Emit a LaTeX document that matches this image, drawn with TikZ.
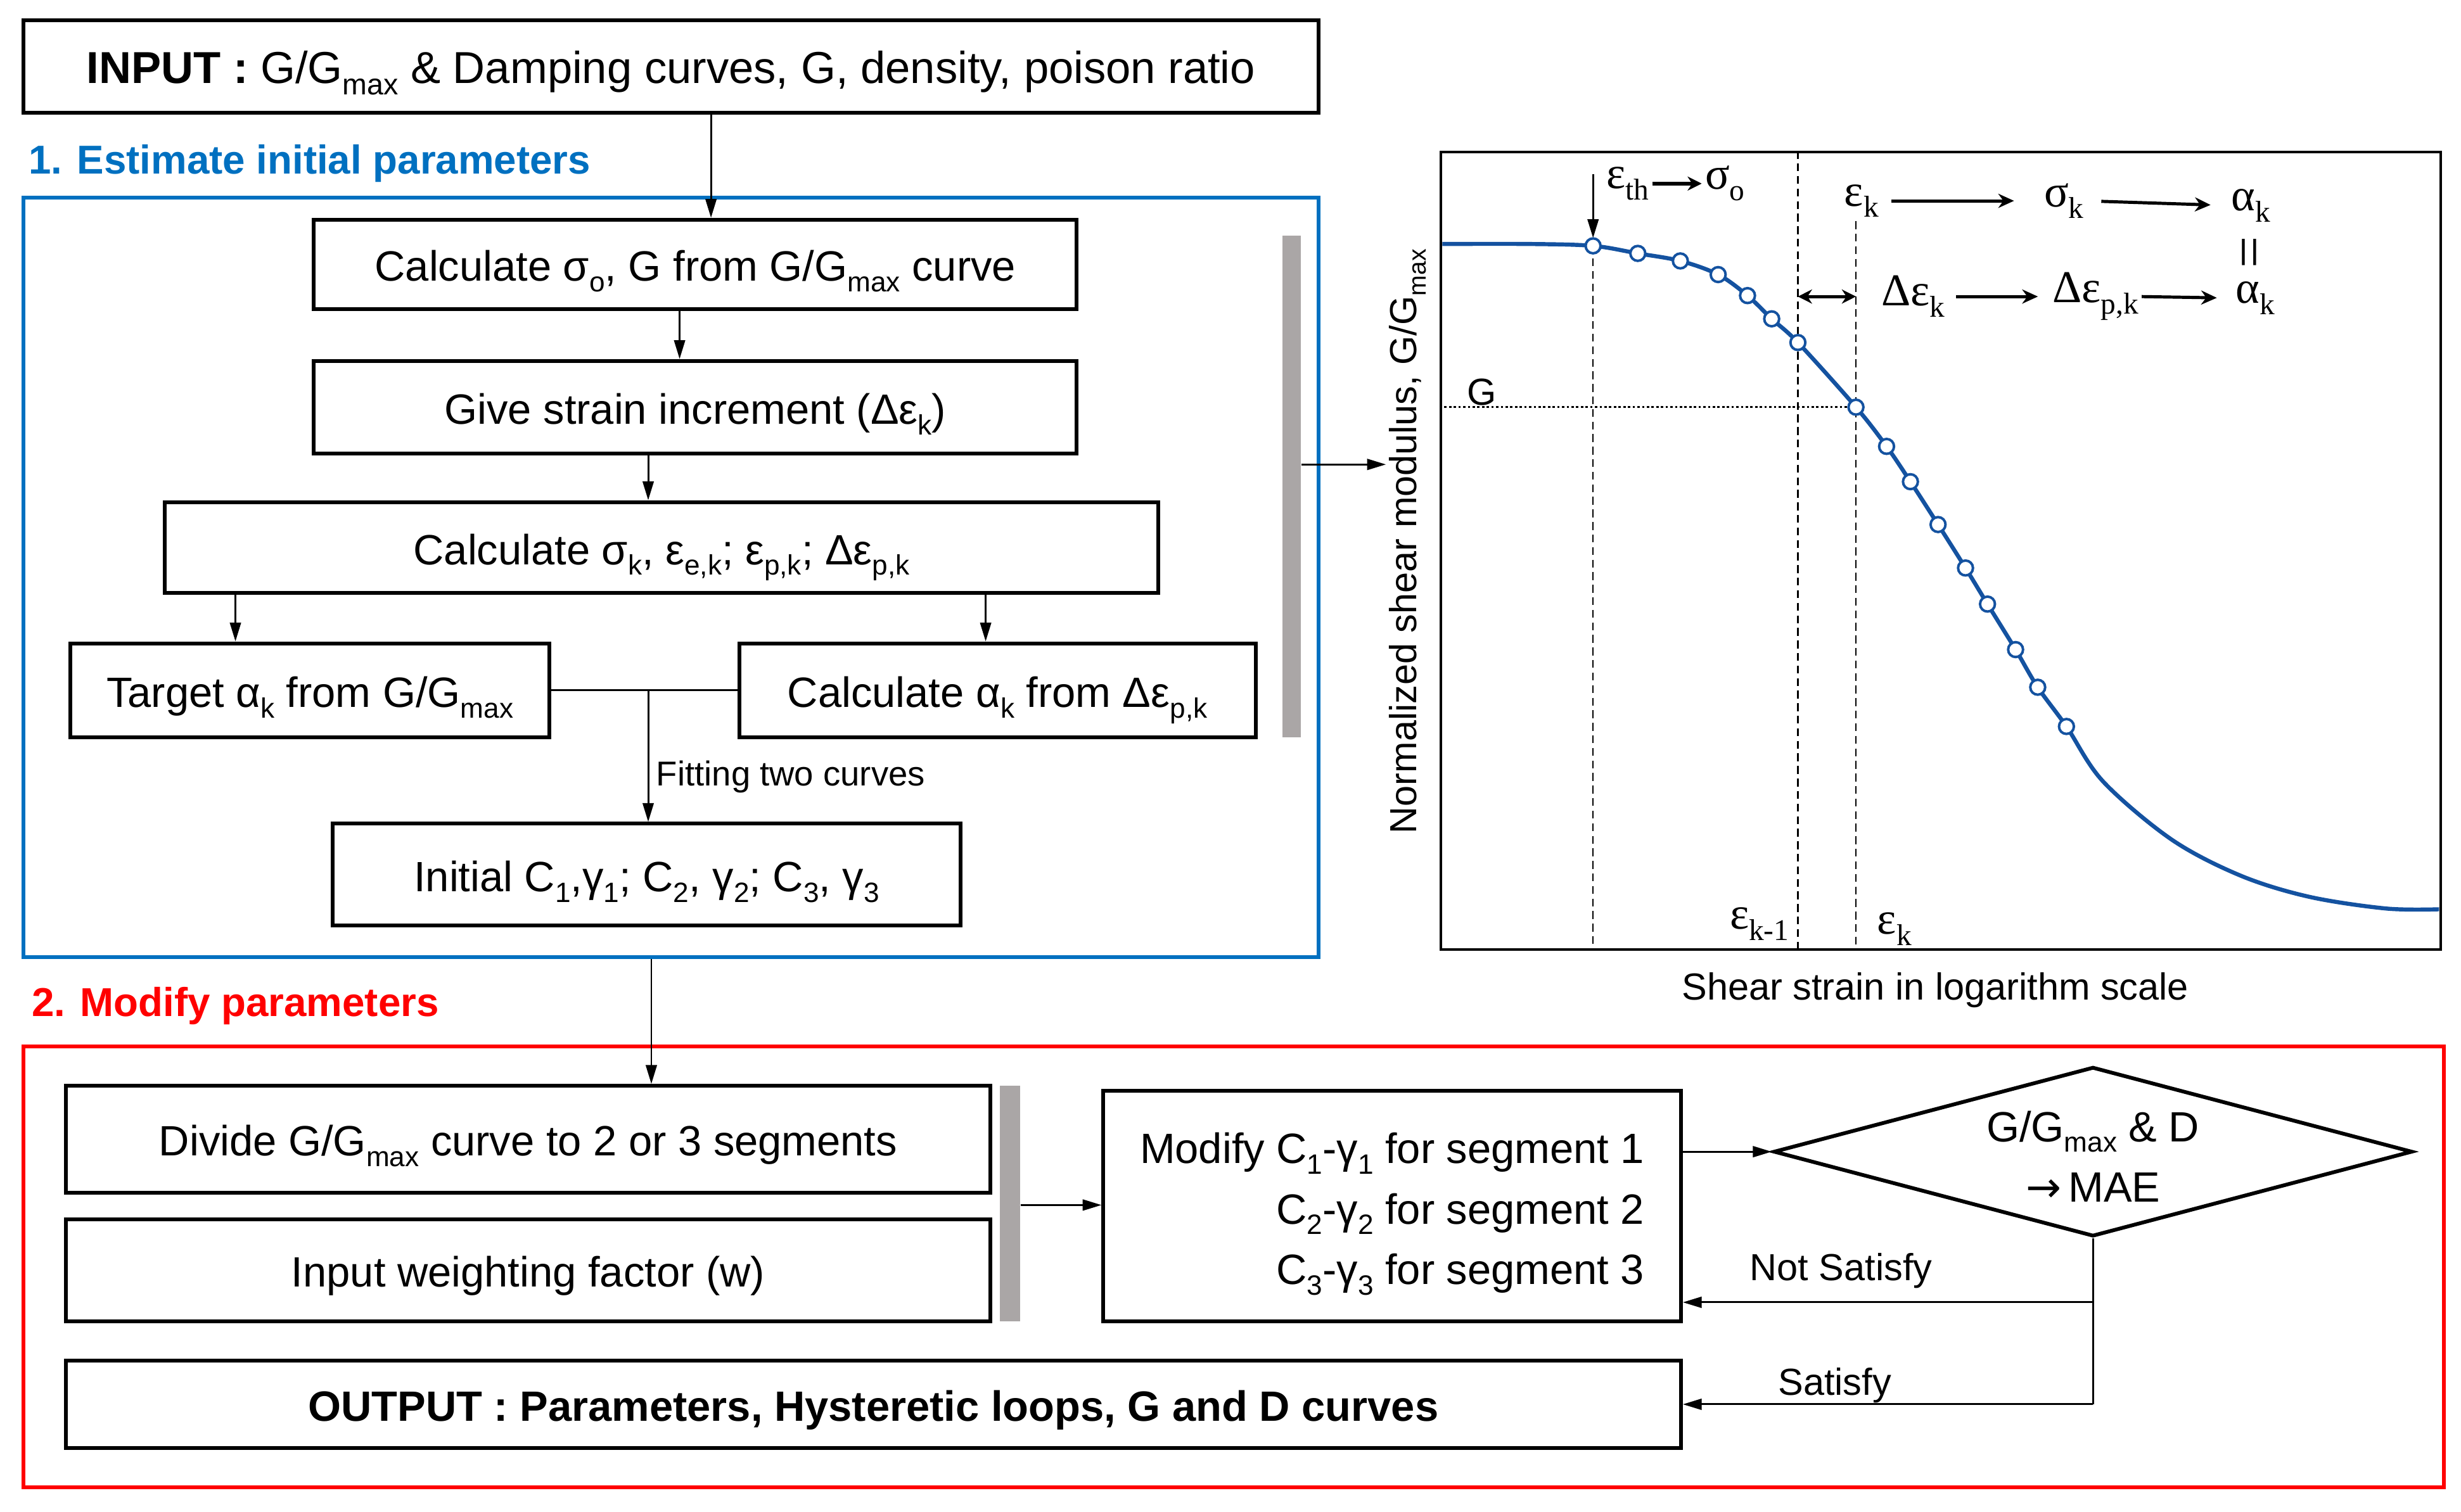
\documentclass[tikz,border=0pt]{standalone}
\usepackage{fontspec}
\setmainfont{Liberation Sans}
\newfontfamily\serifgr{Liberation Serif}
\newfontfamily\djv{DejaVu Sans}
\usepackage{graphicx}
\usetikzlibrary{arrows.meta,shapes.geometric}
\definecolor{pblue}{RGB}{0,112,192}
\definecolor{pred}{RGB}{255,0,0}
\definecolor{pgray}{RGB}{170,166,166}
\definecolor{cblue}{RGB}{20,82,160}
\newcommand\sbx[1]{\raisebox{-0.25em}{\scalebox{0.66}{#1}}}
\newcommand\boxfont{\fontsize{27}{38.5}\selectfont}
\newcommand\lblfont{\fontsize{24}{28}\selectfont}
\newcommand\ttlfont{\fontsize{25.7}{30}\selectfont\bfseries}
\newcommand\fitfont{\fontsize{22}{26}\selectfont}
\newcommand\pltfont{\serifgr\fontsize{29}{32}\selectfont}
\tikzset{
  box/.style={draw, line width=2.4pt, inner sep=0pt, font=\boxfont, fill=white},
  onel/.style={text height=24pt, text depth=2.6pt},
  arr/.style={line width=1.2pt, -{Triangle[length=12pt,width=7pt]}},
  ln/.style={line width=1.2pt},
  graybar/.style={fill=pgray, inner sep=0pt},
  frm/.style={line width=2.6pt, inner sep=0pt},
  parr/.style={line width=2pt, -{Stealth[length=10pt,width=9pt]}},
  dsh/.style={line width=1pt, dash pattern=on 5pt off 3pt},
  dotln/.style={line width=1.2pt, dash pattern=on 1.5pt off 1.5pt},
  mk/.style={circle, draw=cblue, fill=white, line width=1.6pt, inner sep=0pt, minimum size=9.5pt},
  plbl/.style={font=\pltfont, inner sep=1pt},
}
\begin{document}
\begin{tikzpicture}[x=1pt,y=-1pt]
\useasboundingbox (0,0) rectangle (1568,963.3);
% frames and titles
\node[frm, draw=pblue, minimum width=825, minimum height=484] (bframe) at (427.5,368) {};
\node[frm, draw=pred, minimum width=1542, minimum height=281] (rframe) at (786,807.5) {};
\node[anchor=west, text=pblue, font=\ttlfont, inner sep=0] (t1) at (18,104) {1. Estimate initial parameters};
\node[anchor=west, text=pred, font=\ttlfont, inner sep=0] (t2) at (20,641) {2. Modify parameters};
% upper boxes
\node[box, onel, font=\fontsize{28.5}{34}\selectfont, minimum width=825, minimum height=59] (input) at (427.5,42.5) {\textbf{INPUT :} G/G\sbx{max} \& Damping curves, G, density, poison ratio};
\node[box, onel, minimum width=486, minimum height=57] (calc0) at (443,168.5) {Calculate σ\sbx{o}, G from G/G\sbx{max} curve};
\node[box, onel, minimum width=486, minimum height=59] (give) at (443,259.5) {Give strain increment (Δε\sbx{k})};
\node[box, onel, minimum width=633, minimum height=58] (calck) at (421.5,349) {Calculate σ\sbx{k}, ε\sbx{e,k}; ε\sbx{p,k}; Δε\sbx{p,k}};
\node[box, onel, minimum width=305, minimum height=60] (target) at (197.5,440) {Target α\sbx{k} from G/G\sbx{max}};
\node[box, onel, minimum width=329, minimum height=60] (calca) at (635.5,440) {Calculate α\sbx{k} from Δε\sbx{p,k}};
\node[box, onel, minimum width=400, minimum height=65] (init) at (412,557.5) {Initial C\sbx{1},γ\sbx{1}; C\sbx{2}, γ\sbx{2}; C\sbx{3}, γ\sbx{3}};
\node[graybar, minimum width=12, minimum height=320] (bar1) at (823,310) {};
% upper connectors
\draw[arr] ([xshift=25.5pt]input.south) -- ([xshift=10pt]calc0.north);
\draw[arr] ([xshift=-10pt]calc0.south) -- ([xshift=-10pt]give.north);
\draw[arr] ([xshift=-30pt]give.south) -- ([xshift=-8.5pt]calck.north);
\draw[arr] (calck.south -| 150,0) -- (target.north -| 150,0);
\draw[arr] (calck.south -| 628,0) -- (calca.north -| 628,0);
\draw[ln] (target.east) -- (calca.west);
\coordinate (fitj) at (target.east -| 413,0);
\draw[arr] (fitj) -- (init.north -| fitj);
\node[anchor=west, font=\fitfont, inner sep=0] (fitlbl) at (418,495) {Fitting two curves};
% chart
\node[draw, line width=1.6pt, minimum width=637, minimum height=508, inner sep=0] (chart) at (1236.5,351) {};
\node[rotate=90, font=\lblfont, inner sep=2pt] (ylab) at (897,345) {Normalized shear modulus, G/G\sbx{max}};
\node[font=\lblfont, inner sep=0] (xlab) at (1233,631) {Shear strain in logarithm scale};
\draw[arr] (bar1.east |- 0,296) -- (ylab.north |- 0,296);
\foreach \px/\py [count=\i] in {1015/156.7, 1043.5/161.5, 1070.6/166.3, 1094.7/175, 1113.4/188.4, 1128.8/203.2, 1145.5/218.3, 1182.5/259.5, 1202/284.5, 1217.2/307, 1234.8/334.3, 1252.3/362, 1266.3/385, 1284.2/414, 1298.3/438, 1316.6/463} {\coordinate (q\i) at (\px,\py);}
\draw[dsh] (q1) -- (q1 |- chart.south);
\draw[dsh] (q7 |- chart.north) -- (q7 |- chart.south);
\draw[dsh] (q8 |- 0,141) -- (q8 |- chart.south);
\draw[dotln] (q8 -| chart.west) -- (q8);
\draw[arr, line width=1.3pt] (q1 |- 0,111) -- ([yshift=5pt]q1);
\draw[cblue, line width=2.6pt, line join=round] plot[smooth, tension=0.55] coordinates {(919,155.5) (975,155.5) (1015,156.7) (1043.5,161.5) (1070.6,166.3) (1094.7,175) (1113.4,188.4) (1128.8,203.2) (1145.5,218.3) (1182.5,259.5) (1202,284.5) (1217.2,307) (1234.8,334.3) (1252.3,362) (1266.3,385) (1284.2,414) (1298.3,438) (1316.6,463) (1339.9,498) (1383.5,535) (1427.4,558) (1471,571.5) (1520,579) (1554,579.5)};
\foreach \i in {1,...,16} {\node[mk] (m\i) at (q\i) {};}
\node[plbl] (eth) at (1037,117) {ε\sbx{th}};
\node[plbl] (so) at (1099,117) {σ\sbx{o}};
\draw[line width=2.4pt, -{Stealth[length=9pt,width=9pt]}, shorten <=1pt, shorten >=1pt] (eth.east) -- (so.west);
\node[plbl] (ek) at (1186,128) {ε\sbx{k}};
\node[plbl] (sk) at (1315,128) {σ\sbx{k}};
\node[plbl] (ak) at (1434,131) {α\sbx{k}};
\draw[parr, shorten <=7pt, shorten >=18pt] (ek.east) -- (sk.west);
\draw[parr, shorten <=10pt, shorten >=12pt] (sk.east) -- (ak.west);
\node[inner sep=0, rotate=90, font=\serifgr\fontsize{36}{38}\selectfont] (eq) at (1437,161) {=};
\node[plbl] (dek) at (1219,189) {Δε\sbx{k}};
\node[plbl] (depk) at (1335,189) {Δε\sbx{p,k}};
\node[plbl] (ak2) at (1437,190) {α\sbx{k}};
\draw[parr, shorten <=6pt, shorten >=8pt] (dek.east) -- (depk.west);
\draw[parr, shorten <=1pt, shorten >=11pt] (depk.east) -- (ak2.west);
\draw[line width=2pt, {Stealth[length=9pt,width=9pt]}-{Stealth[length=9pt,width=9pt]}] (q7 |- dek) -- (q8 |- dek);
\node[plbl] (ekm1) at (1121,589) {ε\sbx{k-1}};
\node[plbl] (ekb) at (1207,592) {ε\sbx{k}};
\node[font=\lblfont, inner sep=0] (glbl) at (944,250) {G};
% lower boxes
\node[box, onel, minimum width=589, minimum height=68] (divide) at (336.5,726) {Divide G/G\sbx{max} curve to 2 or 3 segments};
\node[box, onel, minimum width=589, minimum height=65] (weight) at (336.5,809.5) {Input weighting factor (w)};
\node[graybar, minimum width=13, minimum height=150] (bar2) at (643.5,767) {};
\node[box, minimum width=368, minimum height=147, align=right] (modify) at (887,768.5) {\rule{0pt}{30pt}Modify C\sbx{1}-γ\sbx{1} for segment 1\\C\sbx{2}-γ\sbx{2} for segment 2\\C\sbx{3}-γ\sbx{3} for segment 3};
\node[box, onel, minimum width=1029, minimum height=56] (output) at (556.5,895) {\textbf{OUTPUT : Parameters, Hysteretic loops, G and D curves}};
\node[draw, line width=2.4pt, diamond, inner sep=0pt, minimum width=407, minimum height=108] (dia) at (1333.5,734) {};
\node[font=\boxfont, align=center, inner sep=0pt] (diatxt) at (1333.5,737) {G/G\sbx{max} \& D\\{\djv →}\,MAE};
% lower connectors
\draw[arr] (bframe.south -| 415,0) -- (divide.north -| 415,0);
\draw[arr] (bar2.east |- 0,768) -- (modify.west |- 0,768);
\draw[arr] (modify.east |- dia.west) -- (dia.west);
\coordinate (nsj) at (dia.south |- 0,830);
\coordinate (sj) at (dia.south |- output.east);
\draw[ln] (dia.south) -- (sj);
\draw[arr] (nsj) -- (modify.east |- nsj);
\draw[arr] (sj) -- (output.east);
\node[font=\lblfont, inner sep=0] (nslbl) at (1173,810) {Not Satisfy};
\node[font=\lblfont, inner sep=0] (slbl) at (1169,883) {Satisfy};
\end{tikzpicture}
\end{document}
